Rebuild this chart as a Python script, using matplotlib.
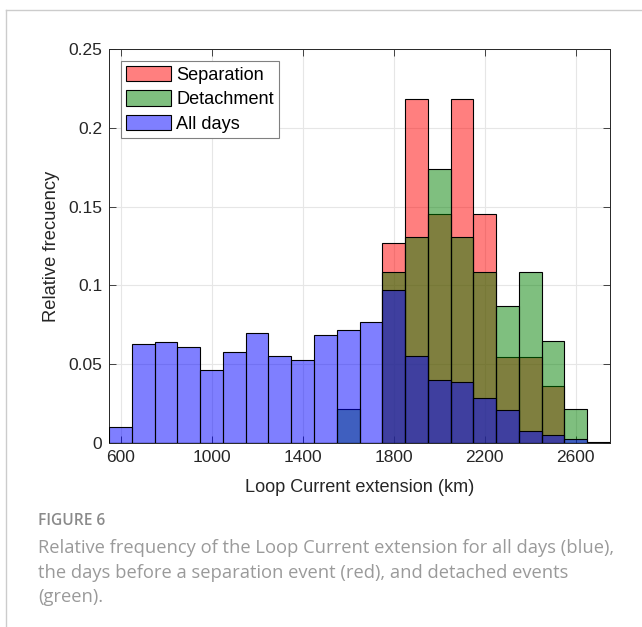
import matplotlib
matplotlib.use("Agg")
import matplotlib.pyplot as plt
from matplotlib.lines import Line2D

# ---- data ----
bin_centers = [600, 700, 800, 900, 1000, 1100, 1200, 1300, 1400, 1500, 1600,
               1700, 1800, 1900, 2000, 2100, 2200, 2300, 2400, 2500, 2600, 2700]
all_days = [0.010, 0.063, 0.064, 0.061, 0.046, 0.058, 0.070, 0.055, 0.0525, 0.0685, 0.072,
            0.077, 0.097, 0.055, 0.040, 0.039, 0.0285, 0.021, 0.0075, 0.005, 0.0023, 0.0008]
separation = [0, 0, 0, 0, 0, 0, 0, 0, 0, 0, 0,
              0, 0.127, 0.218, 0.145, 0.218, 0.145, 0.0545, 0.0545, 0.036, 0, 0]
detachment = [0, 0, 0, 0, 0, 0, 0, 0, 0, 0, 0.0217,
              0, 0.1087, 0.1304, 0.1739, 0.1304, 0.1087, 0.087, 0.1087, 0.065, 0.0217, 0]
x_ticks = [600, 1000, 1400, 1800, 2200, 2600]
y_ticks = [0, 0.05, 0.1, 0.15, 0.2, 0.25]
y_ticklabels = ["0", "0.05", "0.1", "0.15", "0.2", "0.25"]
series_names = ["Separation", "Detachment", "All days"]

caption_title = "FIGURE 6"
caption_lines = [
    "Relative frequency of the Loop Current extension for all days (blue),",
    "the days before a separation event (red), and detached events",
    "(green).",
]

plt.rcParams['font.family'] = ['Liberation Sans', 'DejaVu Sans']

fig = plt.figure(figsize=(6.42, 6.27), dpi=100)
ax = fig.add_axes([0.170, 0.2935, 0.780, 0.6284])

alpha = 0.5
bw = 100
ax.bar(bin_centers, separation, width=bw, color=(1, 0, 0, alpha),
       edgecolor='black', linewidth=0.8, label=series_names[0], zorder=2)
ax.bar(bin_centers, detachment, width=bw, color=(0, 0.5, 0, alpha),
       edgecolor='black', linewidth=0.8, label=series_names[1], zorder=3)
ax.bar(bin_centers, all_days, width=bw, color=(0, 0, 1, alpha),
       edgecolor='black', linewidth=0.8, label=series_names[2], zorder=4)

ax.set_xlim(550, 2750)
ax.set_ylim(0, 0.25)
ax.set_xticks(x_ticks)
ax.set_yticks(y_ticks)
ax.set_yticklabels(y_ticklabels)
ax.tick_params(direction='in', length=5, width=0.6, top=True, right=True,
               labelsize=12.5, colors='#262626', pad=5)
ax.grid(True, color='#e6e6e6', linewidth=0.8)
ax.set_axisbelow(True)
for s in ax.spines.values():
    s.set_color('#262626')
    s.set_linewidth(0.7)

ax.set_xlabel("Loop Current extension (km)", fontsize=13.1, color='#262626', labelpad=10)
ax.set_ylabel("Relative frecuency", fontsize=13.2, color='#262626', labelpad=6)

leg = ax.legend(loc='upper left', bbox_to_anchor=(0.024, 0.970), fontsize=13.1,
                handlelength=2.45, handleheight=0.9, handletextpad=0.3,
                labelspacing=0.36, borderpad=0.29, borderaxespad=0.0,
                fancybox=False, framealpha=1, edgecolor='#808080')
leg.get_frame().set_linewidth(0.8)

# page frame lines
fig.add_artist(Line2D([6/642, 6/642], [0, 1 - 10/627], color='#cccccc', lw=1.0,
                      transform=fig.transFigure))
fig.add_artist(Line2D([6/642, 1], [1 - 10/627, 1 - 10/627], color='#cccccc', lw=1.0,
                      transform=fig.transFigure))

# caption
fig.text(38/642, 1 - 521/627, caption_title, fontsize=11.2, color='#8a8a8a',
         family=['Open Sans', 'DejaVu Sans'], fontweight='semibold', va='center', ha='left')
for i, line in enumerate(caption_lines):
    fig.text(38/642, 1 - (548 + 24.5 * i)/627, line, fontsize=13.2, color='#9a9a9a',
             family=['Open Sans', 'DejaVu Sans'], va='center', ha='left')

fig.savefig("out.png", dpi=100)
